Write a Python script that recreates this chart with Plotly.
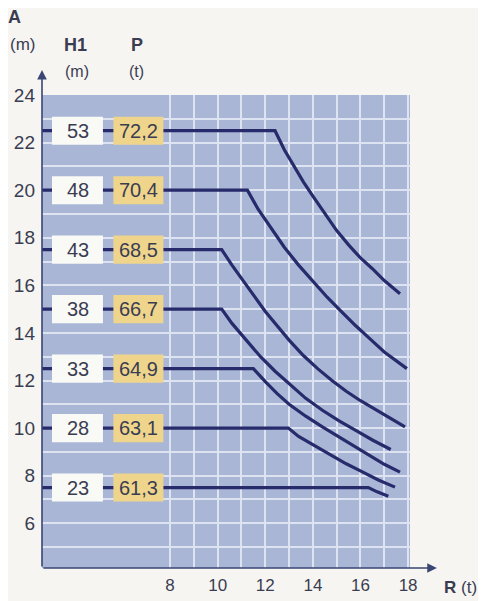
import plotly.graph_objects as go

# ---- data ----
H1 = [53, 48, 43, 38, 33, 28, 23]
P = ["72,2", "70,4", "68,5", "66,7", "64,9", "63,1", "61,3"]
A_rows = [22.5, 20, 17.5, 15, 12.5, 10, 7.5]

R_start = 2.62
curve_R = [
    [R_start, 12.41, 12.8, 13.2, 13.6, 14.0, 14.5, 15.0, 15.5, 16.0, 16.5, 17.0, 17.66],
    [R_start, 11.25, 11.7, 12.2, 12.8, 13.4, 14.0, 14.6, 15.2, 15.8, 16.4, 17.0, 17.95],
    [R_start, 10.17, 10.6, 11.05, 11.5, 12.0, 12.5, 13.0, 13.6, 14.2, 14.8, 15.4, 16.0, 16.6, 17.2, 17.87],
    [R_start, 10.17, 10.6, 11.2, 11.8, 12.4, 13.0, 13.7, 14.4, 15.1, 15.8, 16.5, 17.27],
    [R_start, 11.5, 12.0, 12.5, 13.0, 13.7, 14.4, 15.1, 15.8, 16.5, 17.0, 17.66],
    [R_start, 12.97, 13.4, 14.0, 14.7, 15.4, 16.1, 16.75, 17.45],
    [R_start, 16.33, 16.7, 17.17],
]
curve_A = [
    [22.5, 22.5, 21.7, 21.0, 20.35, 19.75, 19.0, 18.3, 17.7, 17.15, 16.7, 16.2, 15.65],
    [20.0, 20.0, 19.2, 18.45, 17.6, 16.85, 16.15, 15.5, 14.9, 14.3, 13.75, 13.2, 12.5],
    [17.5, 17.5, 16.85, 16.2, 15.6, 14.9, 14.3, 13.7, 13.05, 12.5, 12.0, 11.55, 11.15, 10.8, 10.45, 10.05],
    [15.0, 15.0, 14.4, 13.7, 13.0, 12.4, 11.85, 11.25, 10.75, 10.3, 9.9, 9.5, 9.1],
    [12.5, 12.5, 11.95, 11.45, 11.0, 10.5, 10.05, 9.62, 9.2, 8.78, 8.48, 8.15],
    [10.0, 10.0, 9.65, 9.3, 8.9, 8.5, 8.15, 7.82, 7.52],
    [7.5, 7.5, 7.32, 7.14],
]
y_ticks = [6, 8, 10, 12, 14, 16, 18, 20, 22, 24]
x_ticks = [8, 10, 12, 14, 16, 18]
x_minor = [9, 11, 13, 15, 17]
y_minor = [5, 7, 9, 11, 13, 15, 17, 19, 21, 23]

# ---- styles ----
FONT = "Liberation Sans, Arial, sans-serif"
TXT = "#3a3d52"
NAVY = "#272b6b"
BG = "#a9b6d6"
GRID = "#dde3f1"
PAPER = "#f6f5f1"
X0, X1 = 2.62, 18.08
Y0, Y1 = 4.12, 24.0

fig = go.Figure()
for r, a in zip(curve_R, curve_A):
    fig.add_trace(go.Scatter(x=r, y=a, mode="lines", line=dict(color=NAVY, width=3.2),
                             hoverinfo="skip", showlegend=False))

shapes = []
annotations = []
for h, p, a in zip(H1, P, A_rows):
    shapes.append(dict(type="rect", xref="x", yref="y", x0=3.04, x1=5.18,
                       y0=a - 0.59, y1=a + 0.59, fillcolor="#f9f9f6",
                       line=dict(width=0), layer="above"))
    shapes.append(dict(type="rect", xref="x", yref="y", x0=5.62, x1=7.72,
                       y0=a - 0.59, y1=a + 0.59, fillcolor="#efd58c",
                       line=dict(width=0), layer="above"))
    annotations.append(dict(x=4.13, y=a, xref="x", yref="y", text=str(h),
                            xanchor="center", yanchor="middle",
                            showarrow=False, font=dict(family=FONT, size=20, color=TXT)))
    annotations.append(dict(x=6.67, y=a, xref="x", yref="y", text=p,
                            xanchor="center", yanchor="middle",
                            showarrow=False, font=dict(family=FONT, size=20, color=TXT)))

# axis arrows (head in paper coords, tail offset in pixels)
annotations.append(dict(x=0, y=1.053, xref="paper", yref="paper", ax=0, ay=498,
                        text="", showarrow=True, arrowhead=2, arrowsize=1.2, arrowwidth=1.6,
                        arrowcolor="#3b4574"))
annotations.append(dict(x=1.073, y=0, xref="paper", yref="paper", ax=-395, ay=0,
                        text="", showarrow=True, arrowhead=2, arrowsize=1.2, arrowwidth=1.6,
                        arrowcolor="#3b4574"))

# header labels
def lab(x, y, t, size, bold=False):
    annotations.append(dict(x=x, y=y, xref="paper", yref="paper",
                            xanchor="center", yanchor="middle",
                            text=("<b>%s</b>" % t) if bold else t, showarrow=False,
                            font=dict(family=FONT, size=size, color=TXT)))

lab(-0.076, 1.165, "A", 18, True)
lab(-0.054, 1.106, "(m)", 17)
lab(0.092, 1.106, "H1", 18, True)
lab(0.095, 1.049, "(m)", 16)
lab(0.258, 1.106, "P", 18, True)
lab(0.258, 1.049, "(t)", 16)
lab(1.138, -0.042, "<b>R</b> (t)", 17)

# page body adds an 8px offset: plot area targets x 42-410, y 95-568 on the page
fig.update_layout(
    width=486, height=601,
    margin=dict(l=34, r=84, t=87, b=41, autoexpand=False),
    paper_bgcolor=PAPER, plot_bgcolor=BG,
    shapes=shapes, annotations=annotations,
    showlegend=False,
)
fig.update_xaxes(range=[X0, X1], tickvals=x_ticks, showgrid=True, gridcolor=GRID, gridwidth=1.5,
                 minor=dict(tickvals=x_minor, showgrid=True, gridcolor=GRID, gridwidth=1.5),
                 zeroline=False, showline=False, ticks="", automargin=False,
                 tickfont=dict(family=FONT, size=17, color=TXT), ticklabelstandoff=5)
fig.update_yaxes(range=[Y0, Y1], tickvals=y_ticks, showgrid=True, gridcolor=GRID, gridwidth=1.5,
                 minor=dict(tickvals=y_minor, showgrid=True, gridcolor=GRID, gridwidth=1.5),
                 zeroline=False, showline=False, ticks="", automargin=False,
                 tickfont=dict(family=FONT, size=19, color=TXT), ticklabelstandoff=6)

fig.write_html("out.html")
